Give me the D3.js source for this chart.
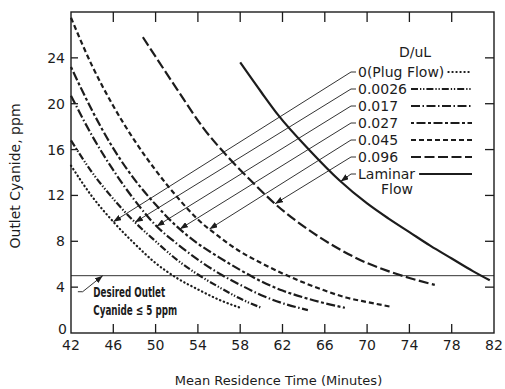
<!DOCTYPE html>
<meta charset="utf-8">
<style>
  body { margin: 0; background: #fff; }
  svg { display: block; font-family: "DejaVu Sans", sans-serif; }
</style>
<body></body>
<script src="https://cdn.jsdelivr.net/npm/d3@7"></script>
<script>
  const width = 505
  const height = 389
  const margin = {top: 12, right: 11, bottom: 56, left: 71}
  const ink = "#1c1c1c"

  const xTicks = [42, 46, 50, 54, 58, 62, 66, 70, 74, 78, 82]
  const yTicks = [0, 4, 8, 12, 16, 20, 24]

  // [mean residence time (min), outlet cyanide (ppm)]
  const plugFlow = [[42, 14.6], [44, 11.9], [46, 9.7], [48, 7.8], [50, 6.1], [52, 4.8], [54, 3.8], [56, 2.9], [58, 2.2]]
  const d0026 = [[42, 16.8], [44, 14.0], [46, 11.7], [48, 9.7], [50, 8.0], [52, 6.4], [54, 5.1], [56, 4.0], [58, 3.0], [60, 2.2]]
  const d017 = [[42, 20.7], [44, 17.2], [46, 14.2], [48, 11.6], [50, 9.4], [52, 7.8], [54, 6.4], [56, 5.2], [58, 4.2], [60, 3.3], [62, 2.6], [64.4, 2.0]]
  const d027 = [[42, 23.2], [44, 19.4], [46, 16.1], [48, 13.4], [50, 11.2], [52, 9.3], [54, 7.8], [56, 6.6], [58, 5.5], [60, 4.5], [62, 3.7], [64, 3.1], [66, 2.6], [67.9, 2.2]]
  const d045 = [[42, 27.5], [44, 23.3], [46, 19.8], [48, 16.8], [50, 14.2], [52, 11.9], [54, 9.9], [56, 8.4], [58, 7.1], [60, 6.1], [62, 5.2], [64, 4.4], [66, 3.7], [68, 3.1], [70, 2.7], [72.2, 2.3]]
  const d096 = [[48.8, 25.8], [50, 24.1], [52, 21.3], [54.5, 17.9], [57, 15.2], [59, 13.3], [61.5, 11.1], [64, 9.3], [67.4, 7.3], [70, 6.1], [72, 5.4], [74, 4.8], [76.4, 4.2]]
  const laminar = [[58, 23.6], [60, 21.0], [61.6, 19.0], [64.6, 15.9], [67.4, 13.3], [70, 11.3], [72, 10.0], [74, 8.8], [76, 7.6], [78, 6.5], [80, 5.4], [81.6, 4.6]]

  const labels = ["0(Plug Flow)", "0.0026", "0.017", "0.027", "0.045", "0.096", "Laminar"]
  const curves = [plugFlow, d0026, d017, d027, d045, d096, laminar]
  // where each leader arrow lands on its curve (minutes)
  const leaderTipX = [46.0, 48.05, 50.1, 52.3, 55.1, 61.3, 67.5]
  const dashes = ["0.4,3.6", "7,2,1.3,1.8,1.3,2", "9,2.5,1.5,2.5", "3,2.5,9,2.5", "5,3", "10,3.5", null]

  const target = 5

  const x = d3.scaleLinear().domain([42, 82]).range([margin.left, width - margin.right])
  const y = d3.scaleLinear().domain([0, 28]).range([height - margin.bottom, margin.top])

  const svg = d3.select("body").append("svg")
    .attr("width", width)
    .attr("height", height)

  svg.append("defs").append("marker")
    .attr("id", "arrow")
    .attr("markerUnits", "userSpaceOnUse")
    .attr("markerWidth", 8)
    .attr("markerHeight", 6)
    .attr("refX", 8)
    .attr("refY", 3)
    .attr("orient", "auto")
    .append("path")
    .attr("d", "M0,0L8,3L0,6Z")
    .attr("fill", ink)

  const x0 = x.range()[0], x1 = x.range()[1]
  const y0 = y.range()[0], y1 = y.range()[1]

  // frame
  svg.append("rect")
    .attr("x", x0).attr("y", y1)
    .attr("width", x1 - x0).attr("height", y0 - y1)
    .attr("fill", "none")
    .attr("stroke", ink)
    .attr("stroke-width", 1.4)

  // inward ticks on all four sides
  const inner = xTicks.slice(1, -1)
  const ticks = svg.append("g").attr("stroke", ink).attr("stroke-width", 1.3)
  ticks.selectAll(".tb").data(inner).enter().append("line")
    .attr("x1", d => x(d)).attr("x2", d => x(d))
    .attr("y1", y0).attr("y2", y0 - 9)
  ticks.selectAll(".tt").data(inner).enter().append("line")
    .attr("x1", d => x(d)).attr("x2", d => x(d))
    .attr("y1", y1).attr("y2", y1 + 10)
  ticks.selectAll(".tl").data(yTicks.slice(1)).enter().append("line")
    .attr("x1", x0).attr("x2", x0 + 7)
    .attr("y1", d => y(d)).attr("y2", d => y(d))
  ticks.selectAll(".tr").data(yTicks.slice(1)).enter().append("line")
    .attr("x1", x1).attr("x2", x1 - 9)
    .attr("y1", d => y(d)).attr("y2", d => y(d))

  svg.append("g").selectAll("text").data(xTicks).enter().append("text")
    .attr("x", d => x(d))
    .attr("y", y0 + 17)
    .attr("text-anchor", "middle")
    .attr("font-size", 14)
    .attr("fill", ink)
    .text(d => d)

  // the zero label sits tucked just above the 42
  svg.append("g").selectAll("text").data(yTicks).enter().append("text")
    .attr("x", d => d === 0 ? x0 - 4 : x0 - 6)
    .attr("y", d => d === 0 ? y(d) + 1 : y(d) + 5)
    .attr("text-anchor", "end")
    .attr("font-size", 14)
    .attr("fill", ink)
    .text(d => d)

  svg.append("text")
    .attr("x", (x0 + x1) / 2 - 4)
    .attr("y", height - 4)
    .attr("text-anchor", "middle")
    .attr("font-size", 13)
    .attr("fill", ink)
    .text("Mean Residence Time (Minutes)")

  svg.append("text")
    .attr("transform", `translate(20, ${176}) rotate(-90)`)
    .attr("text-anchor", "middle")
    .attr("font-size", 14)
    .attr("fill", ink)
    .text("Outlet Cyanide, ppm")

  // desired outlet line
  svg.append("line")
    .attr("x1", x0).attr("x2", x1)
    .attr("y1", y(target)).attr("y2", y(target))
    .attr("stroke", ink)
    .attr("stroke-width", 0.9)

  const line = d3.line()
    .x(d => x(d[0]))
    .y(d => y(d[1]))
    .curve(d3.curveMonotoneX)

  svg.append("g").selectAll("path").data(curves).enter().append("path")
    .attr("d", line)
    .attr("fill", "none")
    .attr("stroke", ink)
    .attr("stroke-width", 2.2)
    .attr("stroke-linecap", (d, i) => i === 0 ? "round" : "butt")
    .attr("stroke-dasharray", (d, i) => dashes[i])

  // legend with leader arrows
  const legendX = 358
  const legendTop = 72
  const rowStep = 17
  const swatchEnd = 472

  svg.append("text")
    .attr("x", 415)
    .attr("y", legendTop - 15)
    .attr("text-anchor", "middle")
    .attr("font-size", 14)
    .attr("fill", ink)
    .text("D/uL")

  function valueAt(data, t) {
    const i = d3.bisector(d => d[0]).left(data, t)
    const a = data[Math.max(0, i - 1)], b = data[Math.min(data.length - 1, i)]
    if (a[0] === b[0]) return a[1]
    return a[1] + (b[1] - a[1]) * (t - a[0]) / (b[0] - a[0])
  }

  labels.forEach((label, i) => {
    const ly = legendTop + i * rowStep
    const text = svg.append("text")
      .attr("x", legendX)
      .attr("y", ly + 5)
      .attr("font-size", 14)
      .attr("fill", ink)
      .text(label)
    const textEnd = legendX + text.node().getComputedTextLength()

    const tx = x(leaderTipX[i])
    const ty = y(valueAt(curves[i], leaderTipX[i]))
    svg.append("path")
      .attr("d", `M${legendX - 2},${ly}L${legendX - 7},${ly}L${tx},${ty}`)
      .attr("fill", "none")
      .attr("stroke", ink)
      .attr("stroke-width", 0.9)
      .attr("marker-end", "url(#arrow)")

    svg.append("line")
      .attr("x1", Math.max(411, textEnd + 4)).attr("x2", swatchEnd)
      .attr("y1", ly).attr("y2", ly)
      .attr("stroke", ink)
      .attr("stroke-width", 2)
      .attr("stroke-linecap", i === 0 ? "round" : "butt")
      .attr("stroke-dasharray", dashes[i])
  })

  svg.append("text")
    .attr("x", 397)
    .attr("y", legendTop + (labels.length - 1) * rowStep + 20)
    .attr("text-anchor", "middle")
    .attr("font-size", 14)
    .attr("fill", ink)
    .text("Flow")

  // desired outlet annotation
  const note = svg.append("g")
    .attr("font-family", "'Liberation Sans Narrow', 'DejaVu Sans Condensed', sans-serif")
    .attr("font-size", 14)
    .attr("font-weight", "bold")
    .attr("fill", ink)
  note.append("text")
    .attr("x", x(44.1)).attr("y", y(3.1))
    .attr("textLength", 72).attr("lengthAdjust", "spacingAndGlyphs")
    .text("Desired Outlet")
  note.append("text")
    .attr("x", x(44.1)).attr("y", y(1.55))
    .attr("textLength", 84).attr("lengthAdjust", "spacingAndGlyphs")
    .text("Cyanide ≤ 5 ppm")

  svg.append("path")
    .attr("d", `M${x(42.65)},${y(3.6)}L${x(43.1)},${y(3.6)}L${x(45.0)},${y(target)}`)
    .attr("fill", "none")
    .attr("stroke", ink)
    .attr("stroke-width", 0.9)
    .attr("marker-end", "url(#arrow)")
</script>
